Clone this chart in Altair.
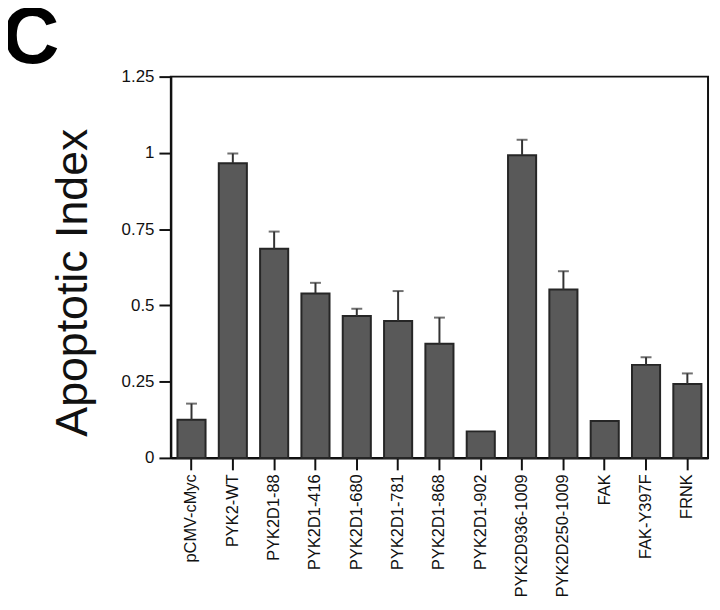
import altair as alt
import pandas as pd

categories = ["pCMV-cMyc", "PYK2-WT", "PYK2D1-88", "PYK2D1-416", "PYK2D1-680",
              "PYK2D1-781", "PYK2D1-868", "PYK2D1-902", "PYK2D936-1009",
              "PYK2D250-1009", "FAK", "FAK-Y397F", "FRNK"]
values = [0.125, 0.966, 0.686, 0.539, 0.465, 0.449, 0.374, 0.087, 0.992,
          0.552, 0.121, 0.305, 0.242]
upper = [0.178, 0.998, 0.742, 0.574, 0.489, 0.547, 0.46, None, 1.043,
         0.612, None, 0.33, 0.277]
y_ticks = [0, 0.25, 0.5, 0.75, 1, 1.25]

df = pd.DataFrame({"cat": categories, "val": values, "up": upper})

FONT = "Liberation Sans"

x_enc = alt.X("cat:N", sort=categories, title=None,
              scale=alt.Scale(paddingInner=0.32, paddingOuter=0.16),
              axis=alt.Axis(labelAngle=-90, labelFontSize=16.5, labelFont=FONT,
                            labelColor="#111", labelPadding=4, tickSize=12,
                            tickWidth=2, tickColor="#111", domainColor="#111",
                            domainWidth=2))

y_scale = alt.Scale(domain=[0, 1.25], nice=False)

bars = alt.Chart(df).mark_bar(color="#595959", stroke="#262626",
                              strokeWidth=2).encode(
    x=x_enc,
    y=alt.Y("val:Q", scale=y_scale,
            axis=alt.Axis(values=y_ticks, labelExpr="toString(datum.value)",
                          grid=False, labelFontSize=17, labelFont=FONT,
                          labelColor="#111", labelPadding=5, tickSize=12,
                          tickWidth=2, tickColor="#111", domainColor="#111",
                          domainWidth=2, title="Apoptotic Index",
                          titleFont=FONT, titleFontSize=45,
                          titleFontWeight="normal", titleColor="#111",
                          titleAngle=-90, titleAlign="center",
                          titleBaseline="alphabetic", titleX=-85, titleY=207)),
)

err = alt.Chart(df).transform_filter("isValid(datum.up)").mark_rule(
    color="#333", strokeWidth=2).encode(
    x=alt.X("cat:N", sort=categories),
    y=alt.Y("val:Q", scale=y_scale),
    y2="up:Q",
)

caps = alt.Chart(df).transform_filter("isValid(datum.up)").mark_tick(
    color="#333", thickness=2, size=11).encode(
    x=alt.X("cat:N", sort=categories),
    y=alt.Y("up:Q", scale=y_scale),
)

letter = alt.Chart(pd.DataFrame({"t": ["C"]})).mark_text(
    font=FONT, fontSize=80, fontWeight="bold", align="left",
    baseline="alphabetic", color="#000").encode(
    text="t:N", x=alt.value(-170), y=alt.value(-14))

chart = alt.layer(bars, err, caps, letter).properties(
    width=541, height=384,
    autosize=alt.AutoSizeParams(type="none"),
    padding={"left": 164, "top": 67, "right": 4, "bottom": 143},
).configure(background="white").configure_view(stroke="#111", strokeWidth=2)

chart.save("out.html", embed_options={"renderer": "svg", "actions": False})
